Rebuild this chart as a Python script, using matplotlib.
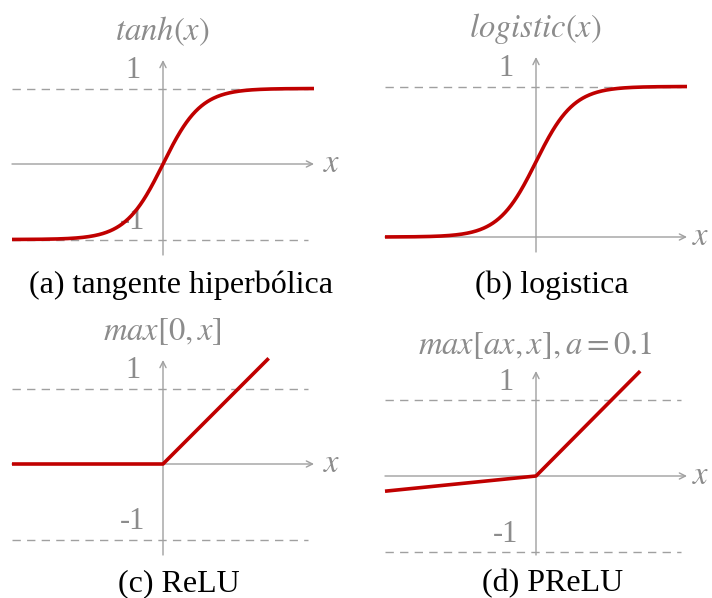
import numpy as np
import matplotlib
matplotlib.use('Agg')
import matplotlib.pyplot as plt

# ---------------- data ----------------
tanh_x = np.linspace(-4, 4, 401)
tanh_y = np.tanh(tanh_x)

logistic_x = np.linspace(-8, 8, 401)
logistic_y = 1.0 / (1.0 + np.exp(-logistic_x))

relu_x = [-2.0, 0.0, 1.4]
relu_y = [0.0, 0.0, 1.4]

prelu_a = 0.1
prelu_x = [-2.0, 0.0, 1.38]
prelu_y = [-0.2, 0.0, 1.38]

titles = [r'$tanh(x)$', r'$logistic(x)$', r'$max[0,x]$', r'$max[ax,x], a = 0.1$']
captions = ['(a) tangente hiperbólica', '(b) logistica', '(c) ReLU', '(d) PReLU']
ref_levels = {'a': [1, -1], 'b': [1], 'c': [1, -1], 'd': [1, -1]}
ref_labels = {1: '1', -1: '-1'}

# ---------------- style ----------------
W, H, DPI = 712, 598, 100
plt.rcParams['mathtext.fontset'] = 'stix'
plt.rcParams['font.family'] = ['Liberation Serif', 'DejaVu Serif']

RED = '#c00000'
GL = '#a0a0a0'
GT = '#8c8c8c'
FS_CAP = 23
FS_TITLE = 23.5
FS_TICK = 22

fig = plt.figure(figsize=(W / DPI, H / DPI), dpi=DPI)


def panel(ox, oy, sx, sy):
    """Full-figure transparent axes whose origin sits at image pixel (ox, oy)."""
    ax = fig.add_axes([0, 0, 1, 1])
    ax.set_xlim(-ox / sx, (W - ox) / sx)
    ax.set_ylim(-(H - oy) / sy, oy / sy)
    ax.axis('off')
    return ax


def decorate(ax, sx, sy, key, y_bot_px, y_top_px, title, title_px, xlab_px):
    arrow = dict(arrowstyle='->', color=GL, lw=1.0, shrinkA=0, shrinkB=0,
                 mutation_scale=11)
    # x axis
    ax.annotate('', xy=(151 / sx, 0), xytext=(-151 / sx, 0), arrowprops=arrow)
    # y axis
    ax.annotate('', xy=(0, y_top_px / sy), xytext=(0, y_bot_px / sy), arrowprops=arrow)
    # dashed reference lines + labels
    for lv in ref_levels[key]:
        ax.plot([-151 / sx, 145 / sx], [lv, lv], color=GL, lw=1.0,
                dashes=(6, 4.5), zorder=1)
        ax.text(-30 / sx, lv + 18 / sy, ref_labels[lv], color=GT, fontsize=FS_TICK,
                ha='center', va='center')
    ax.text(xlab_px / sx, 0, r'$x$', color=GT, fontsize=FS_TITLE, ha='center', va='center')
    ax.text(-0.5 / sx, title_px / sy, title, color=GT, fontsize=FS_TITLE,
            ha='center', va='center')


# (a) tanh
sa = (37.75, 75.5)
axa = panel(163, 164, *sa)
decorate(axa, *sa, 'a', -91, 104, titles[0], 133, 169)
axa.plot(tanh_x, tanh_y, color=RED, lw=2.6, zorder=3, solid_capstyle='butt')

# (b) logistic
sb = (18.875, 150.5)
axb = panel(536, 237, *sb)
decorate(axb, *sb, 'b', -15, 180, titles[1], 209, 165)
axb.plot(logistic_x, logistic_y, color=RED, lw=2.6, zorder=3, solid_capstyle='butt')

# (c) ReLU
sc = (75.5, 75.5)
axc = panel(163, 464, *sc)
decorate(axc, *sc, 'c', -91, 104, titles[2], 132, 169)
axc.plot(relu_x, relu_y, color=RED, lw=2.6, zorder=3, solid_capstyle='butt')

# (d) PReLU
sd = (75.5, 76)
axd = panel(536, 476, *sd)
decorate(axd, *sd, 'd', -79, 105, titles[3], 131, 165)
axd.plot(prelu_x, prelu_y, color=RED, lw=2.6, zorder=3, solid_capstyle='butt')

# captions
cap_pos = [(181, 285), (552, 285), (179, 584), (553, 584)]
for (cx, cy), cap in zip(cap_pos, captions):
    fig.text(cx / W, 1 - cy / H, cap, fontsize=FS_CAP, color='black',
             ha='center', va='center')

fig.savefig('out.png', dpi=DPI)
